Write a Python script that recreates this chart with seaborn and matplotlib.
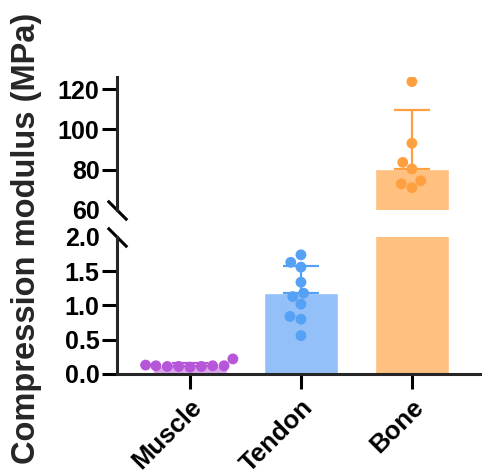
import numpy as np
import pandas as pd
import seaborn as sns
import matplotlib.pyplot as plt
from matplotlib.ticker import FormatStrFormatter

# values
tissues = ["Muscle", "Tendon", "Bone"]
muscle_pts = [0.11, 0.12, 0.12, 0.11, 0.10, 0.12, 0.11, 0.13, 0.22]
tendon_pts = [1.74, 1.63, 1.56, 1.34, 1.18, 1.13, 1.02, 0.84, 0.80, 0.56]
bone_pts = [123.7, 93.1, 83.6, 80.4, 74.5, 73.0, 71.1]
bar_means = [0.12, 1.18, 80.5]
bar_sd = [0.04, 0.40, 29.0]

bar_colors = ["#D9A6EC", "#93C0F8", "#FFC080"]
dot_colors = ["#B656D9", "#55A1F5", "#FFA040"]

pts = pd.DataFrame({
    "tissue": ["Muscle"] * len(muscle_pts) + ["Tendon"] * len(tendon_pts) + ["Bone"] * len(bone_pts),
    "value": muscle_pts + tendon_pts + bone_pts,
})
bars = pd.DataFrame({"tissue": tissues, "mean": bar_means, "sd": bar_sd})

sns.set_style("ticks")
plt.rcParams["font.family"] = ["Liberation Sans", "DejaVu Sans"]
plt.rcParams["font.weight"] = "bold"

fig = plt.figure(figsize=(4.82, 4.74), dpi=100)
ax_top = fig.add_axes([0.2427, 0.5570, 0.753, 0.2806])
ax_bot = fig.add_axes([0.2427, 0.2110, 0.753, 0.2890])

lw = 2.2
for ax in (ax_top, ax_bot):
    sns.barplot(data=bars, x="tissue", y="mean", hue="tissue", palette=bar_colors,
                width=0.66, errorbar=None, legend=False, saturation=1, ax=ax, zorder=1)
    for i, t in enumerate(tissues):
        ax.errorbar(i, bar_means[i], yerr=[[0], [bar_sd[i]]], fmt="none",
                    ecolor=dot_colors[i], elinewidth=1.6, capsize=13.3, capthick=1.6, zorder=2)
    sns.swarmplot(data=pts, x="tissue", y="value", hue="tissue", palette=dot_colors,
                  size=7.8, legend=False, ax=ax, zorder=3)
    ax.set_xlim(-0.658, 2.613)
    ax.set_xlabel("")
    ax.set_ylabel("")
    sns.despine(ax=ax)
    for s in ax.spines.values():
        s.set_linewidth(lw)
    ax.tick_params(length=11, width=lw, labelsize=18, pad=1.5, colors="black")

ax_top.set_ylim(60, 126)
ax_top.set_yticks([60, 80, 100, 120])
ax_top.spines["bottom"].set_visible(False)
ax_top.tick_params(axis="x", bottom=False, labelbottom=False)
ax_top.yaxis.get_major_ticks()[0].tick1line.set_visible(False)

ax_bot.set_ylim(0, 2)
ax_bot.set_yticks([0, 0.5, 1.0, 1.5, 2.0])
ax_bot.yaxis.set_major_formatter(FormatStrFormatter("%.1f"))
ax_bot.yaxis.get_major_ticks()[-1].tick1line.set_visible(False)
ax_bot.set_xticks(range(len(tissues)))
ax_bot.set_xticklabels(tissues, rotation=45, ha="right", rotation_mode="anchor",
                       fontsize=18.5, fontweight="bold")
ax_bot.tick_params(axis="x", pad=4)

# axis break marks
brk = [(-1, 1), (1, -1)]
ax_top.plot([0], [0], transform=ax_top.transAxes, marker=brk, markersize=14,
            mew=lw, color="black", clip_on=False)
ax_bot.plot([0], [1], transform=ax_bot.transAxes, marker=brk, markersize=14,
            mew=lw, color="black", clip_on=False)

fig.text(0.056, 0.498, "Compression modulus (MPa)", rotation=90, fontsize=23.5,
         fontweight="bold", ha="center", va="center")

fig.savefig("out.png", dpi=100)
